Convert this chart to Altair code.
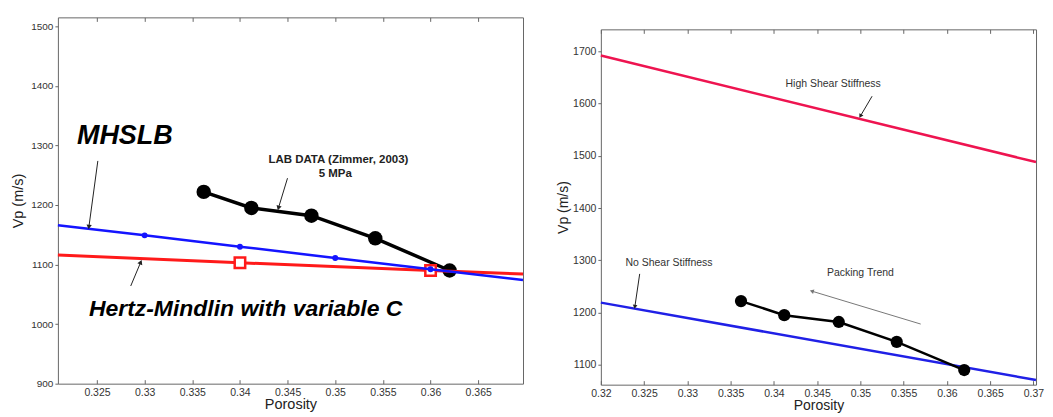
import math
import altair as alt
import pandas as pd

FONT = "Liberation Sans"

# ---------------- data ----------------
lab_phi = [0.3362, 0.3412, 0.3475, 0.3542, 0.3620]
lab_vp = [1222, 1195, 1182, 1144, 1090]

mhslb_phi = [0.3209, 0.33, 0.34, 0.35, 0.36, 0.3697]
mhslb_vp = [1166, 1149, 1130, 1111, 1092, 1074]
mhslb_dot = [0, 1, 1, 1, 1, 0]

hm_phi = [0.3209, 0.34, 0.36, 0.3697]
hm_vp = [1116, 1103, 1090, 1084]
hm_box = [0, 1, 1, 0]

high_phi = [0.32, 0.3703]
high_vp = [1692, 1488]
noshear_phi = [0.32, 0.3703]
noshear_vp = [1219, 1071]

left_xticks = [0.325, 0.33, 0.335, 0.34, 0.345, 0.35, 0.355, 0.36, 0.365]
left_yticks = [900, 1000, 1100, 1200, 1300, 1400, 1500]
right_xticks = [0.32, 0.325, 0.33, 0.335, 0.34, 0.345, 0.35, 0.355, 0.36, 0.365, 0.37]
right_yticks = [1100, 1200, 1300, 1400, 1500, 1600, 1700]

left_big_labels = ["MHSLB", "Hertz-Mindlin with variable C"]
left_big_phi = [0.3229, 0.32415]
left_big_vp = [1302, 1014]
left_big_size = [27, 23]

left_small_labels = ["LAB DATA (Zimmer, 2003)", "5 MPa"]
left_small_phi = [0.35033, 0.3500]
left_small_vp = [1275, 1252]

left_arrow_phi0 = [0.32509, 0.34499, 0.32854]
left_arrow_vp0 = [1274, 1245, 1064]
left_arrow_phi1 = [0.32415, 0.34404, 0.32959]
left_arrow_vp1 = [1163, 1195, 1104]

right_labels = ["High Shear Stiffness", "No Shear Stiffness", "Packing Trend"]
right_label_phi = [0.34685, 0.32787, 0.3500]
right_label_vp = [1637, 1295, 1276]

right_arrow_phi0 = [0.35135, 0.32449, 0.35697]
right_arrow_vp0 = [1614, 1274, 1178]
right_arrow_phi1 = [0.35000, 0.32393, 0.34438]
right_arrow_vp1 = [1576, 1211, 1241]
right_arrow_color = ["#222222", "#222222", "#777777"]

# ---------------- geometry ----------------
LXD, LYD, LW, LH = [0.3209, 0.3697], [900, 1515], 466, 367
RXD, RYD, RW, RH = [0.32, 0.3703], [1062, 1742], 436, 356


def head_angle(x0, y0, x1, y1, xd, yd, w, h):
    dx = (x1 - x0) / (xd[1] - xd[0]) * w
    dy = -(y1 - y0) / (yd[1] - yd[0]) * h
    return math.degrees(math.atan2(dx, -dy)) % 360


def arrows_df(p0, v0, p1, v1, xd, yd, w, h, colors=None):
    rows = []
    for i in range(len(p0)):
        rows.append(dict(
            p0=p0[i], v0=v0[i], p1=p1[i], v1=v1[i],
            ang=head_angle(p0[i], v0[i], p1[i], v1[i], xd, yd, w, h),
            col=(colors[i] if colors else "#222222"),
        ))
    return pd.DataFrame(rows)


def axes(xticks, yticks, ylab_size, title_size, ytitle_pad):
    xb = alt.Axis(values=xticks, format=".3~f", orient="bottom", offset=-4, tickSize=4,
                  domain=False, grid=False, labelFontSize=10.5, labelColor="#333",
                  labelPadding=3.5, labelFlush=False, title="Porosity",
                  titleFontSize=title_size, titleFontWeight="normal", titlePadding=0,
                  titleColor="#222", labelFont=FONT, titleFont=FONT, tickColor="#666")
    xt = alt.Axis(values=xticks, orient="top", offset=-4, tickSize=4, domain=False,
                  labels=False, title=None, grid=False, tickColor="#666")
    yl = alt.Axis(values=yticks, format="d", orient="left", tickSize=3, domain=False,
                  grid=False, labelFontSize=ylab_size, labelColor="#333", labelPadding=2,
                  title="Vp (m/s)", titleFontSize=title_size, titleFontWeight="normal",
                  titlePadding=ytitle_pad, titleColor="#222", labelFont=FONT,
                  titleFont=FONT, tickColor="#666")
    return xb, xt, yl


def build_panel(layers_fn, xd, yd, w, h, xticks, yticks, ylab_size, title_size, ytitle_pad):
    xs = alt.Scale(domain=xd, nice=False, zero=False)
    ys = alt.Scale(domain=yd, nice=False, zero=False)
    xb, xt, yl = axes(xticks, yticks, ylab_size, title_size, ytitle_pad)

    def X(field="phi", axis=alt.Undefined):
        return alt.X(f"{field}:Q", scale=xs, axis=axis)

    def Y(field="vp", axis=alt.Undefined):
        return alt.Y(f"{field}:Q", scale=ys, axis=axis)

    main = alt.layer(*layers_fn(X, Y, xb, yl))
    frame_top = alt.Chart(pd.DataFrame({"phi": [xd[0]], "vp": [yd[0]]})).mark_point(
        opacity=0).encode(x=X(axis=xt), y=Y())
    return alt.layer(main, frame_top).properties(width=w, height=h)


lab_df = pd.DataFrame({"phi": lab_phi, "vp": lab_vp})
mh_df = pd.DataFrame({"phi": mhslb_phi, "vp": mhslb_vp, "dot": mhslb_dot})
hm_df = pd.DataFrame({"phi": hm_phi, "vp": hm_vp, "box": hm_box})
la = arrows_df(left_arrow_phi0, left_arrow_vp0, left_arrow_phi1, left_arrow_vp1,
               LXD, LYD, LW, LH)
big_df = pd.DataFrame({"t": left_big_labels, "phi": left_big_phi, "vp": left_big_vp,
                       "fs": left_big_size})
small_df = pd.DataFrame({"t": left_small_labels, "phi": left_small_phi, "vp": left_small_vp})


def left_layers(X, Y, xb, yl):
    lab_line = alt.Chart(lab_df).mark_line(color="black", strokeWidth=3.5).encode(
        x=X(axis=xb), y=Y(axis=yl))
    lab_pts = alt.Chart(lab_df).mark_circle(color="black", size=210, opacity=1).encode(
        x=X(), y=Y())
    hm_line = alt.Chart(hm_df).mark_line(color="#ff1a1a", strokeWidth=3).encode(x=X(), y=Y())
    hm_pts = alt.Chart(hm_df).transform_filter("datum.box == 1").mark_square(
        filled=True, fill="white", stroke="#ff1a1a", strokeWidth=2.5, size=110, opacity=1
    ).encode(x=X(), y=Y())
    mh_line = alt.Chart(mh_df).mark_line(color="#1414ff", strokeWidth=2.5).encode(
        x=X(), y=Y())
    mh_pts = alt.Chart(mh_df).transform_filter("datum.dot == 1").mark_circle(
        color="#1414ff", size=35, opacity=1).encode(x=X(), y=Y())
    shaft = alt.Chart(la).mark_rule(color="#222", strokeWidth=1).encode(
        x=X("p0"), y=Y("v0"), x2="p1:Q", y2="v1:Q")
    head = alt.Chart(la).mark_point(shape="triangle-up", filled=True, color="#222",
                                    size=28, opacity=1).encode(
        x=X("p1"), y=Y("v1"), angle=alt.Angle("ang:Q", scale=None))
    big_txt = alt.Chart(big_df).mark_text(
        font=FONT, fontWeight="bold", fontStyle="italic", align="left",
        baseline="alphabetic", color="black").encode(
        x=X(), y=Y(), text="t:N", size=alt.Size("fs:Q", scale=None))
    small_txt = alt.Chart(small_df).mark_text(
        font=FONT, fontWeight="bold", fontSize=11.5, align="center", baseline="middle",
        color="#222").encode(x=X(), y=Y(), text="t:N")
    return [lab_line, lab_pts, hm_line, hm_pts, mh_line, mh_pts, shaft, head,
            big_txt, small_txt]


left = build_panel(left_layers, LXD, LYD, LW, LH, left_xticks, left_yticks,
                   10, 14.5, 5)

hi_df = pd.DataFrame({"phi": high_phi, "vp": high_vp})
no_df = pd.DataFrame({"phi": noshear_phi, "vp": noshear_vp})
ra = arrows_df(right_arrow_phi0, right_arrow_vp0, right_arrow_phi1, right_arrow_vp1,
               RXD, RYD, RW, RH, right_arrow_color)
rl_df = pd.DataFrame({"t": right_labels, "phi": right_label_phi, "vp": right_label_vp})


def right_layers(X, Y, xb, yl):
    r_hi = alt.Chart(hi_df).mark_line(color="#ee1450", strokeWidth=2.5).encode(
        x=X(axis=xb), y=Y(axis=yl))
    r_no = alt.Chart(no_df).mark_line(color="#2020e6", strokeWidth=2.5).encode(
        x=X(), y=Y())
    r_lab = alt.Chart(lab_df).mark_line(color="black", strokeWidth=2.5).encode(
        x=X(), y=Y())
    r_pts = alt.Chart(lab_df).mark_circle(color="black", size=150, opacity=1).encode(
        x=X(), y=Y())
    shaft = alt.Chart(ra).mark_rule(strokeWidth=1).encode(
        x=X("p0"), y=Y("v0"), x2="p1:Q", y2="v1:Q",
        color=alt.Color("col:N", scale=None))
    head = alt.Chart(ra).mark_point(shape="triangle-up", filled=True, size=22,
                                    opacity=1).encode(
        x=X("p1"), y=Y("v1"), angle=alt.Angle("ang:Q", scale=None),
        color=alt.Color("col:N", scale=None))
    txt = alt.Chart(rl_df).mark_text(font=FONT, fontSize=10.5, align="center",
                                     baseline="middle", color="#333").encode(
        x=X(), y=Y(), text="t:N")
    return [r_hi, r_no, r_lab, r_pts, shaft, head, txt]


right = build_panel(right_layers, RXD, RYD, RW, RH, right_xticks, right_yticks,
                    10.5, 14, 2)

spacer = alt.Chart(pd.DataFrame({"a": [0]})).mark_point(opacity=0).encode(
    x=alt.X("a:Q", axis=None), y=alt.Y("a:Q", axis=None)
).properties(width=RW, height=11, view=alt.ViewBackground(strokeOpacity=0))

right_col = alt.vconcat(spacer, right, spacing=0)

chart = alt.hconcat(left, right_col, spacing=26).properties(
    padding={"left": 2, "top": 8, "right": 0, "bottom": 0},
    background="white",
).configure_view(stroke="#666", strokeWidth=1)

chart.save("out.html", embed_options={"renderer": "svg", "actions": False})
